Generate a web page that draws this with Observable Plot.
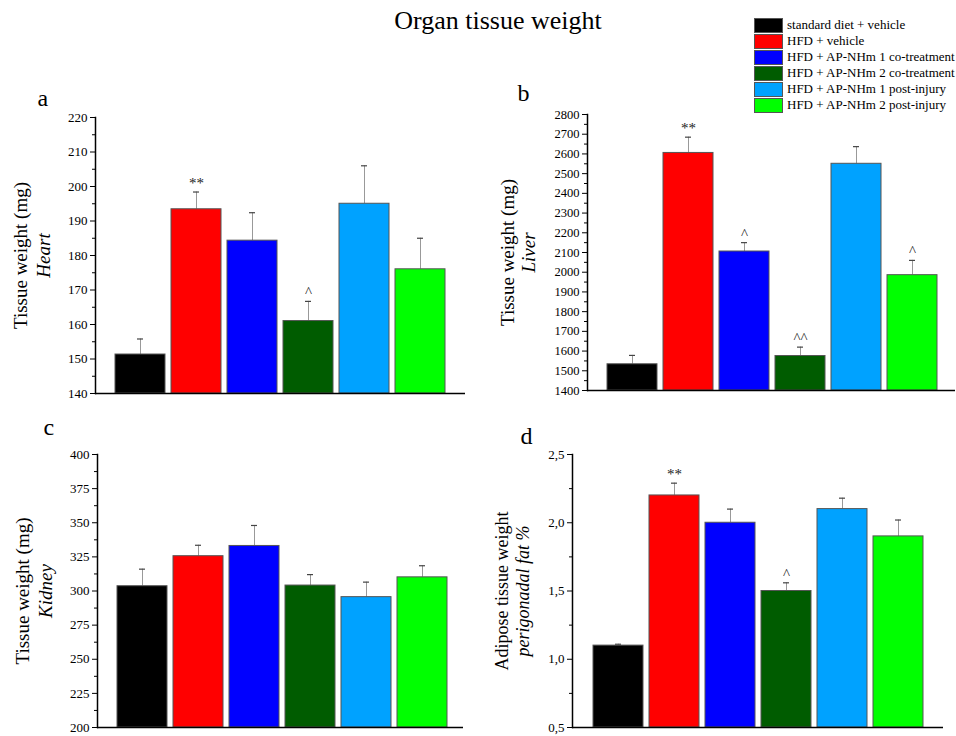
<!DOCTYPE html>
<html>
<head>
<meta charset="utf-8">
<script src="https://cdn.jsdelivr.net/npm/d3@7"></script>
<script src="https://cdn.jsdelivr.net/npm/@observablehq/plot@0.6"></script>
<style>
  html, body { margin: 0; padding: 0; background: #fff; }
  #root { position: relative; width: 956px; height: 736px; font-family: "Liberation Serif", "Times New Roman", serif; color: #000; overflow: hidden; }
  #root svg, #root svg text { font-family: "Liberation Serif", "Times New Roman", serif !important; }
  .panel { position: absolute; }
  #title { position: absolute; left: 348px; width: 300px; top: 6px; text-align: center; font-size: 26px; line-height: 30px; white-space: nowrap; }
  #legend { position: absolute; left: 754px; top: 17px; }
  .row { display: flex; align-items: center; height: 16px; }
  .sw { width: 27px; height: 13px; border: 1px solid #555; margin-right: 4px; box-sizing: content-box; }
  .lt { font-size: 13px; white-space: nowrap; }
</style>
</head>
<body>
<div id="root">
  <div id="title">Organ tissue weight</div>
  <div id="legend"></div>
</div>
<script>
// ---------- data ----------
const groups = [
  "standard diet + vehicle",
  "HFD + vehicle",
  "HFD + AP-NHm 1 co-treatment",
  "HFD + AP-NHm 2 co-treatment",
  "HFD + AP-NHm 1 post-injury",
  "HFD + AP-NHm 2 post-injury"
];
const colors = ["#000000", "#ff0000", "#0000ff", "#005c00", "#00a2ff", "#00ff00"];

const heartMean = [151.3, 193.4, 184.3, 161.0, 195.0, 176.0];
const heartErr  = [4.5, 5.0, 8.1, 5.7, 11.0, 9.0];
const heartSig  = ["", "**", "", "^", "", ""];

const liverMean = [1533, 2605, 2105, 1575, 2550, 1985];
const liverErr  = [45, 80, 45, 45, 87, 75];
const liverSig  = ["", "**", "^", "^^", "", "^"];

const kidneyMean = [303.5, 325.5, 333.0, 304.0, 295.5, 310.0];
const kidneyErr  = [12.5, 8.0, 15.0, 8.0, 11.0, 8.5];
const kidneySig  = ["", "", "", "", "", ""];

const fatMean = [1.10, 2.20, 2.00, 1.50, 2.10, 1.90];
const fatErr  = [0.01, 0.09, 0.10, 0.06, 0.08, 0.12];
const fatSig  = ["", "**", "", "^", "", ""];

const heartTicks  = [140, 150, 160, 170, 180, 190, 200, 210, 220];
const liverTicks  = [1400, 1500, 1600, 1700, 1800, 1900, 2000, 2100, 2200, 2300, 2400, 2500, 2600, 2700, 2800];
const kidneyTicks = [200, 225, 250, 275, 300, 325, 350, 375, 400];
const fatTicks    = [0.5, 1.0, 1.5, 2.0, 2.5];

const heartMinor  = [145, 155, 165, 175, 185, 195, 205, 215];
const liverMinor  = [1450, 1550, 1650, 1750, 1850, 1950, 2050, 2150, 2250, 2350, 2450, 2550, 2650, 2750];
const kidneyMinor = [212.5, 237.5, 262.5, 287.5, 312.5, 337.5, 362.5, 387.5];
const fatMinor    = [0.75, 1.25, 1.75, 2.25];

const serif = "Liberation Serif";

// ---------- legend ----------
const legend = document.getElementById("legend");
groups.forEach((g, i) => {
  const row = document.createElement("div");
  row.className = "row";
  row.innerHTML = `<div class="sw" style="background:${colors[i]}"></div><div class="lt">${g}</div>`;
  legend.appendChild(row);
});

// ---------- panels ----------
const panels = [
  {letter: "a", mean: heartMean, err: heartErr, sig: heartSig, ticks: heartTicks, minor: heartMinor,
   label1: "Tissue weight (mg)", label2: "Heart", fmt: d => String(d),
   left: 0, top: 80, width: 480, height: 320, mL: 95, mT: 37, mR: 15, mB: 7, xr: [114, 447],
   letterPos: [37, 18], lab1: 20, lab2: 43, labSize: 19, tickSize: 13},
  {letter: "b", mean: liverMean, err: liverErr, sig: liverSig, ticks: liverTicks, minor: liverMinor,
   label1: "Tissue weight (mg)", label2: "Liver", fmt: d => String(d),
   left: 480, top: 80, width: 476, height: 320, mL: 107, mT: 34, mR: 1, mB: 10, xr: [126, 459],
   letterPos: [37, 13], lab1: 27, lab2: 48, labSize: 19, tickSize: 12.5},
  {letter: "c", mean: kidneyMean, err: kidneyErr, sig: kidneySig, ticks: kidneyTicks, minor: kidneyMinor,
   label1: "Tissue weight (mg)", label2: "Kidney", fmt: d => String(d),
   left: 0, top: 410, width: 480, height: 326, mL: 97, mT: 44, mR: 17, mB: 9, xr: [115, 449],
   letterPos: [43, 17], lab1: 22, lab2: 45, labSize: 19, tickSize: 13},
  {letter: "d", mean: fatMean, err: fatErr, sig: fatSig, ticks: fatTicks, minor: fatMinor,
   label1: "Adipose tissue weight", label2: "perigonadal fat %", fmt: d => d.toFixed(1).replace(".", ","),
   left: 480, top: 410, width: 476, height: 326, mL: 92, mT: 44, mR: 13, mB: 9, xr: [111, 445],
   letterPos: [40, 26], lab1: 22, lab2: 43, labSize: 18, tickSize: 13}
];

const root = document.getElementById("root");

for (const p of panels) {
  const data = groups.map((g, i) => ({group: g, mean: p.mean[i], top: p.mean[i] + p.err[i], sig: p.sig[i]}));
  const yDomain = [p.ticks[0], p.ticks[p.ticks.length - 1]];
  const chart = Plot.plot({
    width: p.width,
    height: p.height,
    marginLeft: p.mL,
    marginTop: p.mT,
    marginRight: p.mR,
    marginBottom: p.mB,
    style: {fontFamily: serif, fontSize: "12px", background: "transparent", overflow: "visible", color: "#000"},
    x: {type: "band", domain: groups, range: p.xr, paddingInner: 0.1, paddingOuter: 0, axis: null},
    y: {domain: yDomain, axis: null},
    color: {domain: groups, range: colors},
    marks: [
      Plot.ruleX(data, {x: "group", y1: "mean", y2: "top", stroke: "#999", strokeWidth: 1}),
      Plot.tickY(data, {x: "group", y: "top", stroke: "#444", strokeWidth: 1.2, insetLeft: 22, insetRight: 22}),
      Plot.barY(data, {x: "group", y1: yDomain[0], y2: "mean", fill: "group", stroke: "#555", strokeWidth: 1}),
      Plot.text(data, {x: "group", y: "top", text: "sig", lineAnchor: "bottom", dy: -4, fontSize: 15, fill: "#222", fontFamily: serif}),
      Plot.axisY(p.ticks, {tickSize: 5, tickPadding: 3, tickFormat: p.fmt, fontSize: p.tickSize, fontFamily: serif}),
      Plot.axisY(p.minor, {tickSize: 3, tickFormat: () => ""}),
      Plot.ruleY([yDomain[0]], {stroke: "#000", strokeWidth: 1.5}),
      Plot.frame({anchor: "left", stroke: "#000", strokeWidth: 1.5}),
      Plot.text([p.label1], {frameAnchor: "left", rotate: -90, dx: p.lab1 - p.mL, lineAnchor: "middle", textAnchor: "middle", fontSize: p.labSize, fontFamily: serif}),
      Plot.text([p.label2], {frameAnchor: "left", rotate: -90, dx: p.lab2 - p.mL, lineAnchor: "middle", textAnchor: "middle", fontSize: p.labSize, fontStyle: "italic", fontFamily: serif}),
      Plot.text([p.letter], {frameAnchor: "top-left", dx: p.letterPos[0] - p.mL, dy: p.letterPos[1] - p.mT, lineAnchor: "middle", textAnchor: "start", fontSize: 24, fontFamily: serif})
    ]
  });
  chart.classList.add("panel");
  chart.style.left = p.left + "px";
  chart.style.top = p.top + "px";
  chart.style.position = "absolute";
  root.appendChild(chart);
}
</script>
</body>
</html>
